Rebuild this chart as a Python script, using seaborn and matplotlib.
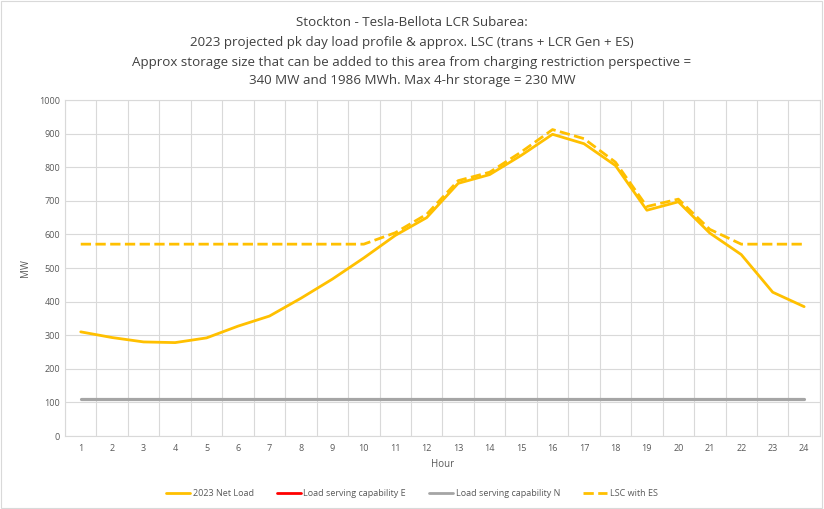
import numpy as np
import pandas as pd
import matplotlib
matplotlib.use("Agg")
import matplotlib.pyplot as plt
import seaborn as sns
from matplotlib.lines import Line2D

hours = list(range(1, 25))
net_load = [310, 293, 280, 278, 292, 327, 357, 410, 467, 530, 597, 650,
            752, 778, 835, 898, 870, 805, 672, 697, 604, 540, 428, 385]
lsc_e = [110] * 24
lsc_n = [110] * 24
lsc_es = [571, 571, 571, 571, 571, 571, 571, 571, 571, 571, 605, 660,
          760, 785, 845, 912, 885, 815, 683, 705, 615, 571, 571, 571]
series_names = ["2023 Net Load", "Load serving capability E",
                "Load serving capability N", "LSC with ES"]
title_lines = ["Stockton - Tesla-Bellota LCR Subarea:",
               "2023 projected pk day load profile & approx. LSC (trans + LCR Gen + ES)",
               "Approx storage size that can be added to this area from charging restriction perspective =",
               "340 MW and 1986 MWh. Max 4-hr storage = 230 MW"]

sns.set_style("white")
plt.rcParams['font.family'] = ['Open Sans', 'DejaVu Sans']

df = pd.DataFrame({"Hour": hours * 4,
                   "MW": net_load + lsc_e + lsc_n + lsc_es,
                   "Series": sum([[n] * 24 for n in series_names], [])})

colors = {"2023 Net Load": "#FFC000", "Load serving capability E": "#FF0000",
          "Load serving capability N": "#A5A5A5", "LSC with ES": "#FFC000"}
widths = {"2023 Net Load": 2.0, "Load serving capability E": 1.0,
          "Load serving capability N": 2.3, "LSC with ES": 2.0}

fig = plt.figure(figsize=(8.24, 5.09), dpi=100)
ax = fig.add_axes([0.0789, 0.1434, 0.9161, 0.6601])

for name in ["Load serving capability E", "Load serving capability N", "2023 Net Load", "LSC with ES"]:
    sub = df[df.Series == name]
    sns.lineplot(data=sub, x="Hour", y="MW", ax=ax, color=colors[name],
                 linewidth=widths[name], linestyle="--" if name == "LSC with ES" else "-",
                 legend=False, zorder=3)

ax.set_xlim(0.5, 24.5)
ax.set_ylim(0, 1000)
ax.set_xticks(hours)
ax.set_xticks(np.arange(0.5, 25, 1), minor=True)
ax.set_yticks(range(0, 1001, 100))
ax.grid(False)
ax.grid(True, which="minor", axis="x", color="#D9D9D9", linewidth=0.8)
ax.grid(True, which="major", axis="y", color="#D9D9D9", linewidth=0.8)
ax.tick_params(axis="both", which="both", length=0, labelsize=6.5, labelcolor="#595959")
ax.tick_params(axis="x", pad=6)
for s in ax.spines.values():
    s.set_color("#D9D9D9")
    s.set_linewidth(0.8)
ax.set_xlabel("Hour", fontsize=7, color="#595959", labelpad=4)
ax.set_ylabel("MW", fontsize=7, color="#595959", labelpad=6)

ys = [0.955, 0.916, 0.877, 0.841]
for t, y in zip(title_lines, ys):
    fig.text(0.5, y, t, ha="center", va="center", fontsize=9.6, color="#404040")

handles = [Line2D([], [], color=colors[n], linewidth=2,
                  linestyle="--" if n == "LSC with ES" else "-") for n in series_names]
fig.legend(handles, series_names, loc="center", bbox_to_anchor=(0.5, 0.031), ncol=4,
           frameon=False, fontsize=6.5, labelcolor="#595959", handlelength=2.6,
           columnspacing=2.6, handletextpad=0.3)

fig.patches.append(plt.Rectangle((0.001, 0.001), 0.997, 0.997, transform=fig.transFigure,
                                 fill=False, edgecolor="#D9D9D9", linewidth=0.8))
fig.savefig("out.png", dpi=100)
